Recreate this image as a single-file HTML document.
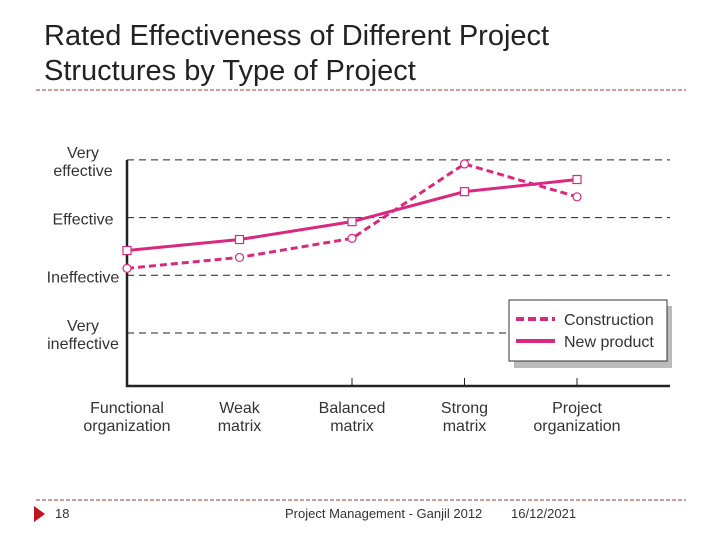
<!DOCTYPE html>
<html><head><meta charset="utf-8"><style>
body{margin:0;width:720px;height:540px;background:#fff;font-family:"Liberation Sans",sans-serif;overflow:hidden}
</style></head><body>
<svg width="720" height="540" viewBox="0 0 720 540">
<text x="44" y="45" font-size="29" fill="#222">Rated Effectiveness of Different Project</text>
<text x="44" y="80" font-size="29" fill="#222">Structures by Type of Project</text>
<line x1="36" y1="90" x2="686" y2="90" stroke="#a33" stroke-dasharray="4,2" stroke-width="1"/>
<g id="chart"></g>
<line x1="36" y1="500" x2="686" y2="500" stroke="#a33" stroke-dasharray="4,2" stroke-width="1"/>
<polygon points="34,506 34,522 45,514" fill="#c0141e"/>
<text x="55" y="518" font-size="13" fill="#333">18</text>
<text x="285" y="518" font-size="13" fill="#333">Project Management - Ganjil 2012</text>
<text x="511" y="518" font-size="13" fill="#333">16/12/2021</text>
</svg>
<script>
const categories=[["Functional","organization"],["Weak","matrix"],["Balanced","matrix"],["Strong","matrix"],["Project","organization"]];
const levels=[["Very","ineffective"],["Ineffective"],["Effective"],["Very","effective"]];
const construction=[2.12,2.31,2.64,3.93,3.36];
const newProduct=[2.43,2.62,2.93,3.45,3.66];
const NS="http://www.w3.org/2000/svg";
const g=document.getElementById('chart');
const C="#d9287f";
const xs=i=>127+i*112.5;
const ys=v=>333-(v-1)*57.7;
function el(t,a,p){const e=document.createElementNS(NS,t);for(const k in a)e.setAttribute(k,a[k]);(p||g).appendChild(e);return e;}
levels.forEach((l,i)=>{
 const y=ys(i+1);
 const ln=el('line',{x1:127,y1:y,x2:670,y2:y,stroke:'#222','stroke-dasharray':'7,5','stroke-width':1});
 
 
 const t=el('text',{x:83,'text-anchor':'middle','font-size':16,fill:'#333'});
 
 
 const y0=l.length==2?y-2:y+7;
 l.forEach((s,j)=>{const ts=el('tspan',{x:83,y:y0+j*18},t);ts.textContent=s;});
});
const ax=el('path',{d:'M127,160 V386 H670',fill:'none',stroke:'#222','stroke-width':2.5});


categories.forEach((c,i)=>{
 const x=xs(i);
 if(i>=2){const tk=el('line',{x1:x,y1:378,x2:x,y2:386,stroke:'#222'});}
 const t=el('text',{'text-anchor':'middle','font-size':16,fill:'#333'});
 
 
 c.forEach((s,j)=>{const ts=el('tspan',{x:x,y:413+j*18},t);ts.textContent=s;});
});
function series(vals,dash,marker,name){
 const p=el('polyline',{points:vals.map((v,i)=>xs(i)+','+ys(v)).join(' '),fill:'none',stroke:C,'stroke-width':3,'stroke-dasharray':dash});
 
 
 vals.forEach((v,i)=>{
  const m=marker=='c'?el('circle',{cx:xs(i),cy:ys(v),r:4,fill:'#fff',stroke:C,'stroke-width':1.2}):el('rect',{x:xs(i)-4,y:ys(v)-4,width:8,height:8,fill:'#fff',stroke:C,'stroke-width':1.2});
  
  
 });
}
series(newProduct,'none','s','new-product');
series(construction,'7,4','c','construction');
const lg=el('g',{});


el('rect',{x:514,y:306,width:158,height:62,fill:'#bbb'},lg);
el('rect',{x:509,y:300,width:158,height:61,fill:'#fff',stroke:'#333'},lg);
el('line',{x1:516,y1:319,x2:555,y2:319,stroke:C,'stroke-width':4,'stroke-dasharray':'8,4'},lg);
el('line',{x1:516,y1:341,x2:555,y2:341,stroke:C,'stroke-width':4},lg);
const t1=el('text',{x:564,y:325,'font-size':16,fill:'#333'},lg);t1.textContent='Construction';
const t2=el('text',{x:564,y:347,'font-size':16,fill:'#333'},lg);t2.textContent='New product';
</script>
</body></html>
